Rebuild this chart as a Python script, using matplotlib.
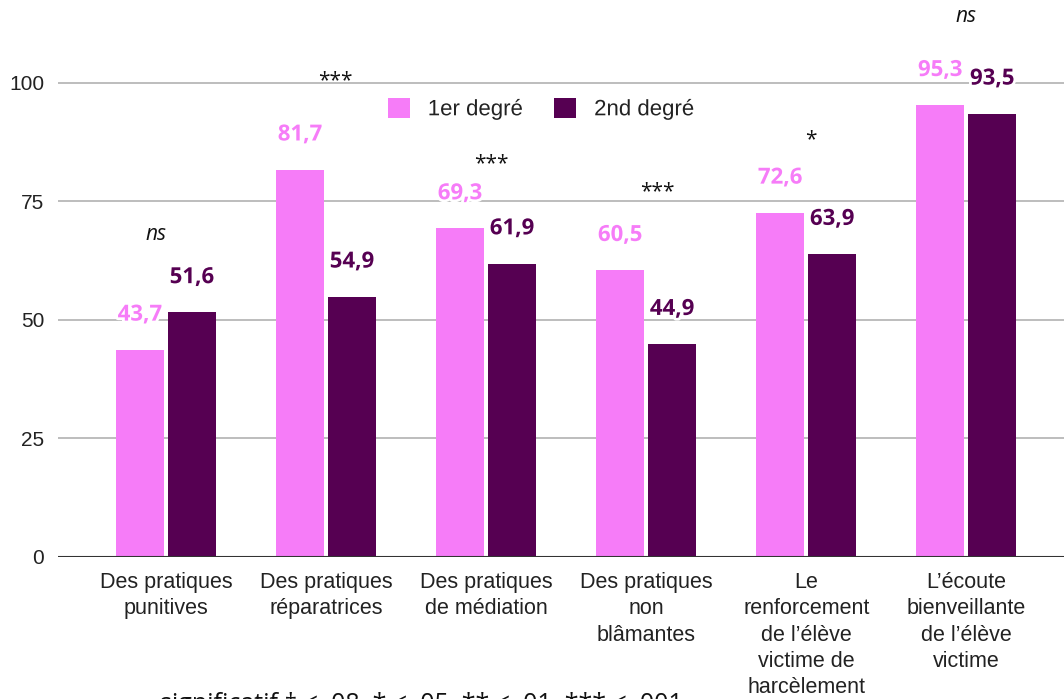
import matplotlib
matplotlib.use("Agg")
import matplotlib.pyplot as plt
import matplotlib.patheffects as pe
import numpy as np

categories = [
    "Des pratiques\npunitives",
    "Des pratiques\nréparatrices",
    "Des pratiques\nde médiation",
    "Des pratiques\nnon\nblâmantes",
    "Le\nrenforcement\nde l’élève\nvictime de\nharcèlement",
    "L’écoute\nbienveillante\nde l’élève\nvictime",
]
series_names = ["1er degré", "2nd degré"]
premier = [43.7, 81.7, 69.3, 60.5, 72.6, 95.3]
second = [51.6, 54.9, 61.9, 44.9, 63.9, 93.5]
signif = ["ns", "***", "***", "***", "*", "ns"]
signif_y = [68.0, 100.5, 83.0, 77.0, 88.0, 114.0]
signif_dx = [-0.06, 0.06, 0.03, 0.07, 0.03, 0.0]
yticks = [0, 25, 50, 75, 100]
note = "significatif † < .08, * < .05, ** < .01, *** < .001"

pink = "#F67CF8"
dark = "#560052"

W, H = 1064, 699
fig = plt.figure(figsize=(W / 100, H / 100), dpi=100)
left_px, right_px = 58, 1064
top_px, bottom_px = 0, 557
ax = fig.add_axes([left_px / W, 1 - bottom_px / H, (right_px - left_px) / W, (bottom_px - top_px) / H])

x = np.arange(len(categories))
bw = 0.30
off = 0.1625
b1 = ax.bar(x - off, premier, bw, color=pink, label=series_names[0], zorder=3)
b2 = ax.bar(x + off, second, bw, color=dark, label=series_names[1], zorder=3)

ax.set_xlim(-0.675, 5.61)
ax.set_ylim(0, 117.5)
ax.set_yticks(yticks)
ax.set_yticklabels([str(t) for t in yticks], fontsize=15, family="Liberation Sans", color="#222222")
ax.set_xticks(x)
ax.set_xticklabels(categories, fontsize=15.5, family="Liberation Sans", color="#222222", linespacing=1.32)
ax.tick_params(axis="both", length=0)
ax.tick_params(axis="y", pad=10)
ax.tick_params(axis="x", pad=11)
for s in ax.spines.values():
    s.set_visible(False)
ax.grid(axis="y", color="#bdbdbd", linewidth=1.4, zorder=0)
ax.axhline(0, color="#333333", linewidth=1.5, zorder=4)

halo = [pe.withStroke(linewidth=4, foreground="white")]
for bars, vals, col in [(b1, premier, pink), (b2, second, dark)]:
    for r, v in zip(bars, vals):
        ax.annotate(f"{v:.1f}".replace(".", ","), (r.get_x() + r.get_width() / 2, v),
                    xytext=(0, 25), textcoords="offset points", ha="center", va="center",
                    fontsize=16, fontweight="bold", family="Open Sans", color=col,
                    path_effects=halo, zorder=5)

for i, (s, yy, dx) in enumerate(zip(signif, signif_y, signif_dx)):
    ax.text(i + dx, yy, s, ha="center", va="center", fontsize=15,
            family="Open Sans", style="italic" if s == "ns" else "normal", color="#111111", zorder=5)

leg = fig.legend(loc="center", bbox_to_anchor=(541 / W, 1 - 109 / H), ncol=2, frameon=False,
                 prop={"family": "Liberation Sans", "size": 16}, handlelength=1.0, handleheight=1.0,
                 handletextpad=0.8, columnspacing=1.4)
for t in leg.get_texts():
    t.set_color("#222222")
    t.set_path_effects(halo)

fig.text(160 / W, 1 - 692 / H, note, ha="left", va="top", fontsize=18, family="Open Sans", color="#111111")

fig.savefig("out.png", dpi=100)
